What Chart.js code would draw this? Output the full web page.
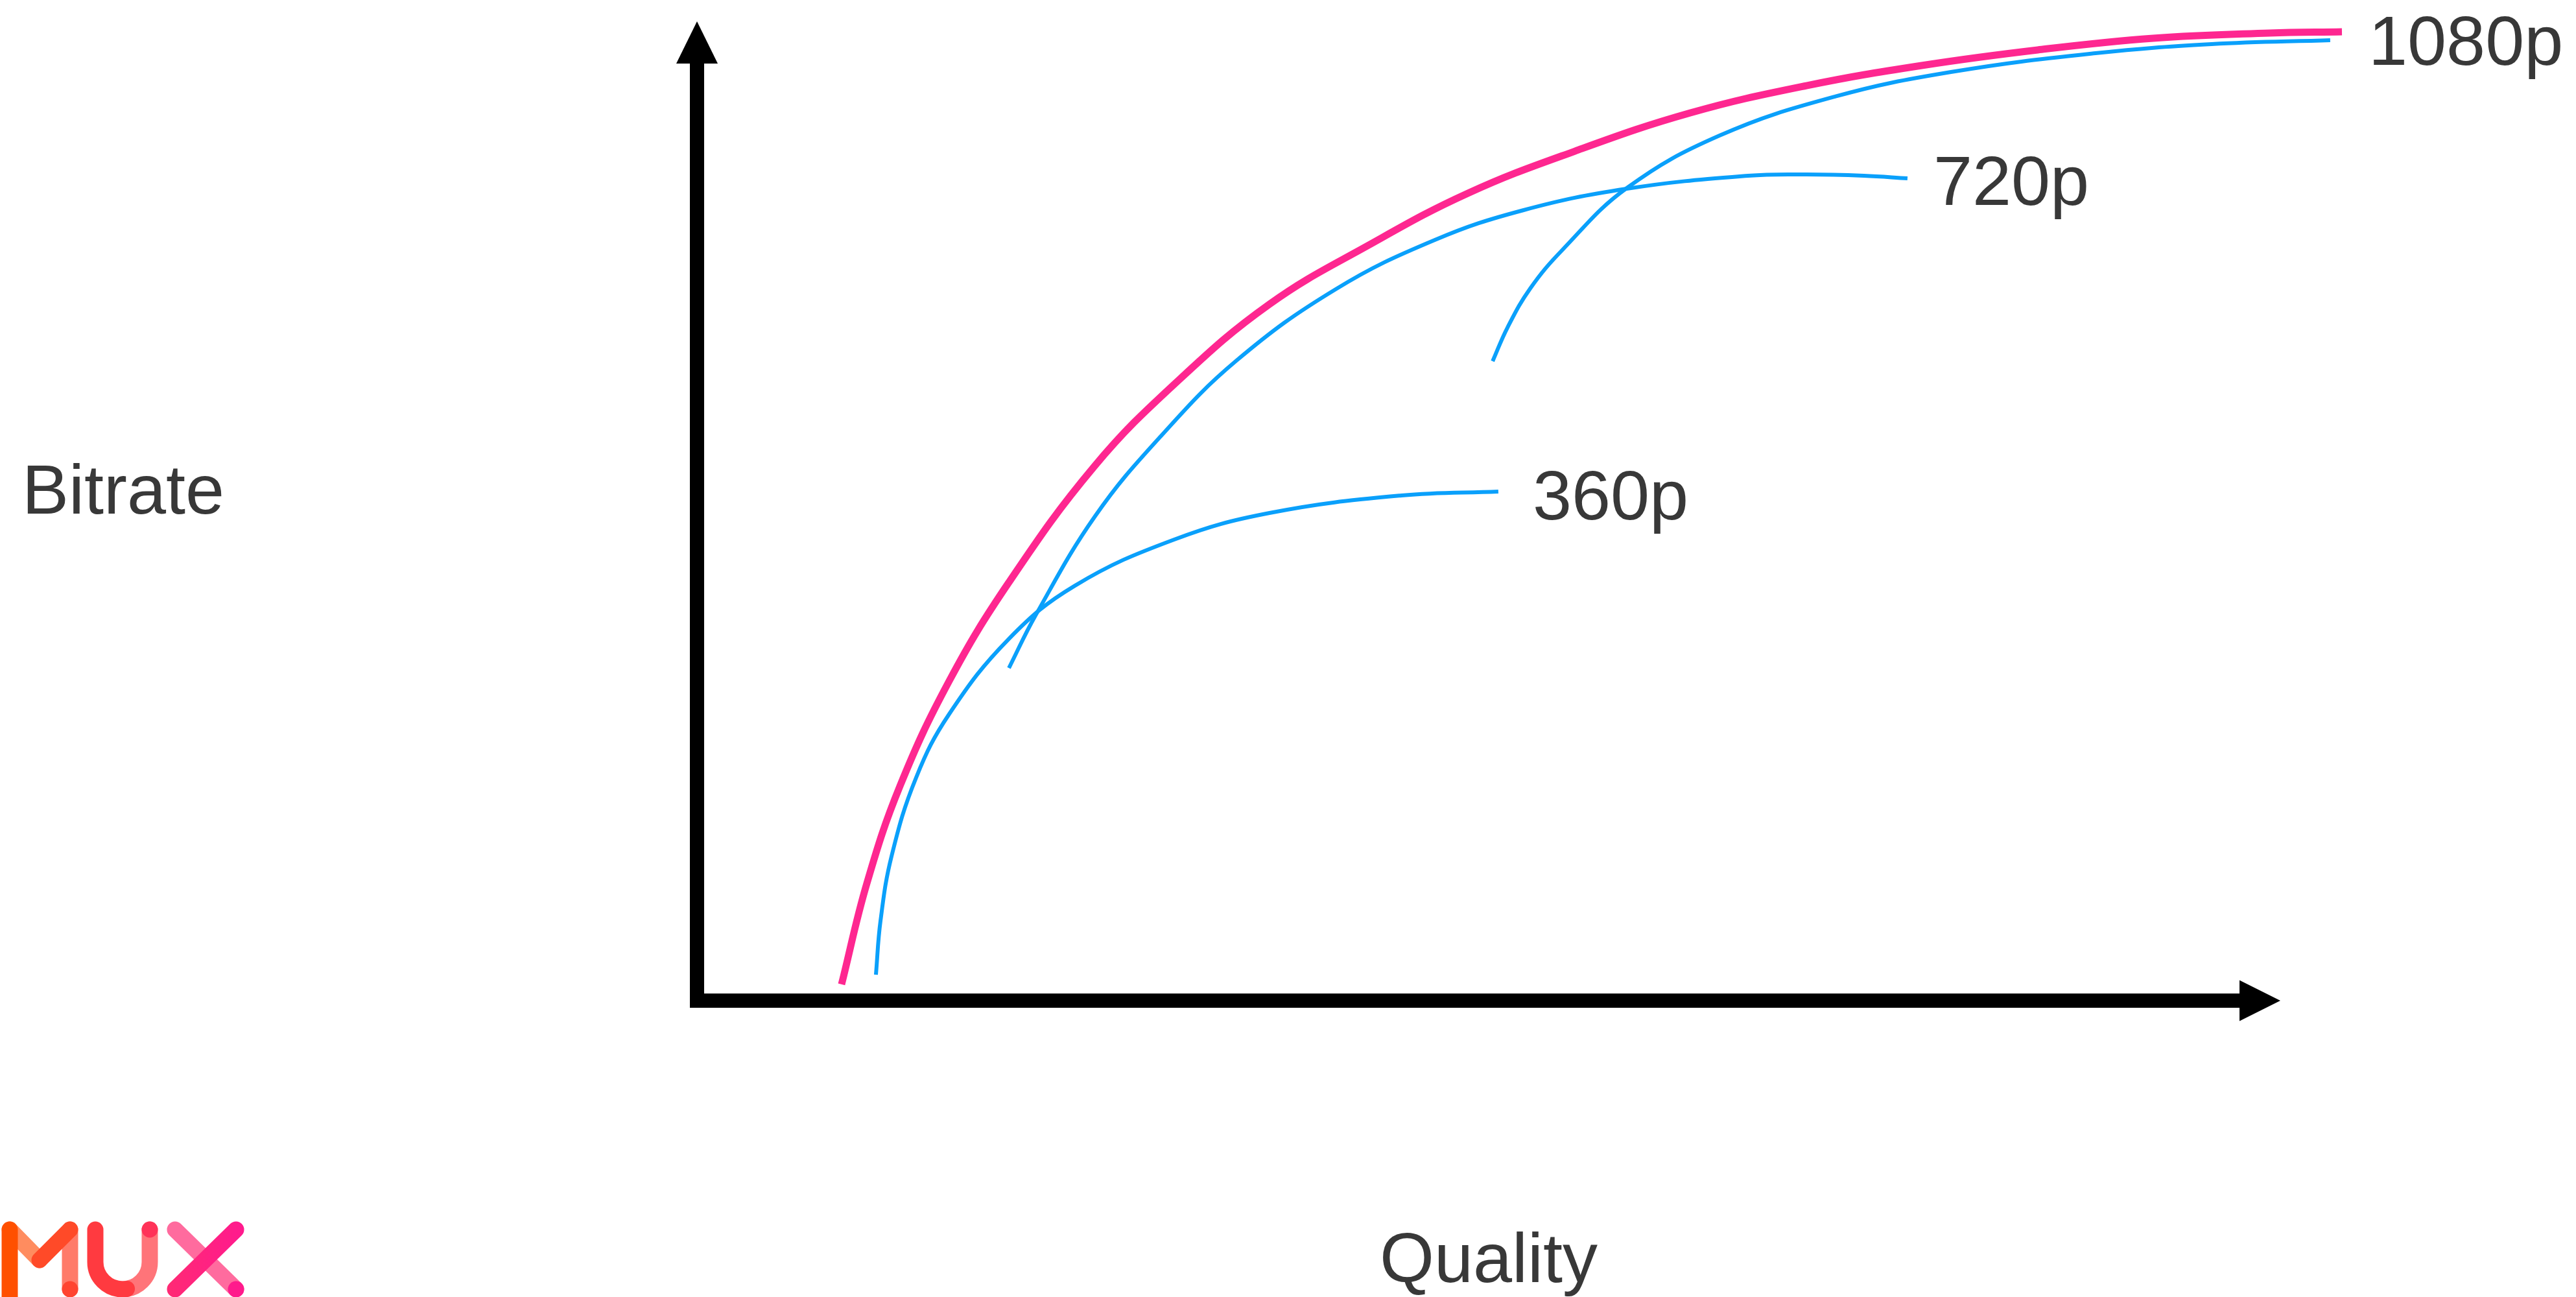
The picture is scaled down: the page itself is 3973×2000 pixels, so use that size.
<!DOCTYPE html>
<html>
<head>
<meta charset="utf-8">
<script src="https://cdn.jsdelivr.net/npm/chart.js@4.4.1/dist/chart.umd.min.js"></script>
<style>
html, body { margin: 0; padding: 0; background: #fff; }
#wrap { width: 3973px; height: 2000px; position: relative; }
</style>
</head>
<body>
<div id="wrap"><canvas id="chart_bitrateLadder"></canvas></div>
<script>
// axis titles
var xAxisTitle = 'Quality';
var yAxisTitle = 'Bitrate';

// quality (0-100 along the x arrow), bitrate (0-100 along the y arrow)
var hull1080Quality = [9.13, 10.73, 12.82, 15.93, 19.70, 25.10, 30.30, 36.16, 42.42, 48.69, 55.45, 62.74, 70.07, 77.35, 84.68, 91.97, 99.30, 103.89];
var hull1080Bitrate = [1.66, 11.99, 21.92, 32.65, 42.72, 54.57, 63.18, 71.13, 77.15, 82.45, 86.75, 90.66, 93.44, 95.50, 97.09, 98.28, 98.81, 98.94];

var res1080Quality = [50.25, 51.19, 52.62, 54.67, 58.72, 64.58, 71.87, 79.20, 88.33, 95.66, 103.15];
var res1080Bitrate = [65.30, 68.74, 72.72, 76.69, 82.98, 88.34, 92.32, 94.83, 96.75, 97.68, 98.08];

var res720Quality = [19.70, 21.38, 25.14, 29.28, 34.07, 40.34, 46.60, 52.21, 58.72, 66.38, 70.07, 73.71, 76.45];
var res720Bitrate = [33.97, 39.34, 49.47, 57.62, 65.36, 72.65, 77.68, 80.73, 82.91, 84.24, 84.37, 84.24, 83.97];

var res360Quality = [11.30, 11.59, 12.29, 13.84, 15.93, 19.70, 23.87, 30.14, 36.16, 44.51, 50.61];
var res360Bitrate = [2.65, 8.15, 14.77, 22.78, 29.27, 36.95, 42.38, 47.09, 49.80, 51.59, 51.99];

function toPoints(xs, ys) {
    return xs.map(function (x, i) { return { x: x, y: ys[i] }; });
}

var labelFont = '108px "Liberation Sans", Arial, sans-serif';
var textColor = '#383838';

var axesPlugin = {
    id: 'arrowAxes',
    beforeDraw: function (chart) {
        var ctx = chart.ctx;
        ctx.save();
        ctx.fillStyle = 'white';
        ctx.fillRect(0, 0, chart.width, chart.height);
        ctx.restore();
    },
    beforeDatasetsDraw: function (chart) {
        var ctx = chart.ctx;
        var a = chart.chartArea;
        var ox = chart.scales.x.getPixelForValue(0);
        var oy = chart.scales.y.getPixelForValue(0);
        ctx.save();
        ctx.fillStyle = '#000';
        // y axis
        ctx.fillRect(ox - 11, a.top + 65, 22, oy + 11 - (a.top + 65));
        ctx.beginPath();
        ctx.moveTo(ox - 32, a.top + 65);
        ctx.lineTo(ox + 32, a.top + 65);
        ctx.lineTo(ox, a.top);
        ctx.closePath();
        ctx.fill();
        // x axis
        ctx.fillRect(ox - 11, oy - 11, a.right - 63 - (ox - 11), 22);
        ctx.beginPath();
        ctx.moveTo(a.right - 63, oy - 31.5);
        ctx.lineTo(a.right - 63, oy + 31.5);
        ctx.lineTo(a.right, oy);
        ctx.closePath();
        ctx.fill();
        ctx.restore();
    },
    afterDatasetsDraw: function (chart) {
        var ctx = chart.ctx;
        var a = chart.chartArea;
        ctx.save();
        ctx.font = labelFont;
        ctx.fillStyle = textColor;
        ctx.textBaseline = 'alphabetic';

        // end-of-curve labels
        chart.data.datasets.forEach(function (ds, i) {
            if (!ds.endLabel) return;
            var meta = chart.getDatasetMeta(i);
            var last = meta.data[meta.data.length - 1];
            ctx.textAlign = 'left';
            ctx.fillText(ds.endLabel, last.x + ds.endLabelDx, last.y + ds.endLabelDy);
        });

        ctx.textAlign = 'left';
        ctx.fillText(yAxisTitle, 34, 792);
        ctx.textAlign = 'center';
        ctx.fillText(xAxisTitle, (a.left + a.right) / 2, 1977);
        ctx.restore();

        drawLogo(ctx);
    }
};

function stroke(ctx, color, pts) {
    ctx.strokeStyle = color;
    ctx.beginPath();
    ctx.moveTo(pts[0], pts[1]);
    for (var i = 2; i < pts.length; i += 2) ctx.lineTo(pts[i], pts[i + 1]);
    ctx.stroke();
}

function drawLogo(ctx) {
    ctx.save();
    ctx.lineWidth = 25;
    ctx.lineCap = 'round';
    ctx.lineJoin = 'round';
    // M
    stroke(ctx, '#ff8c5f', [15, 1896, 61, 1943]);
    stroke(ctx, '#ff7b69', [108, 1896, 108, 1988]);
    stroke(ctx, '#ff5000', [15, 1896, 15, 2030]);
    stroke(ctx, '#ff4a28', [61, 1943, 108, 1896]);
    ctx.fillStyle = '#ff4530';
    ctx.beginPath(); ctx.arc(108, 1988, 12.5, 0, Math.PI * 2); ctx.fill();
    // U
    ctx.strokeStyle = '#ff7479';
    ctx.beginPath();
    ctx.moveTo(231, 1896);
    ctx.lineTo(231, 1946);
    ctx.arc(189, 1946, 42, 0, Math.PI / 2);
    ctx.stroke();
    ctx.strokeStyle = '#ff3a40';
    ctx.beginPath();
    ctx.moveTo(147, 1896);
    ctx.lineTo(147, 1946);
    ctx.arc(189, 1946, 42, Math.PI, Math.PI * 0.45, true);
    ctx.stroke();
    ctx.fillStyle = '#ff3358';
    ctx.beginPath(); ctx.arc(231, 1896, 12.5, 0, Math.PI * 2); ctx.fill();
    // X
    stroke(ctx, '#ff6b9e', [270, 1896, 364, 1988]);
    var g = ctx.createLinearGradient(258, 0, 376, 0);
    g.addColorStop(0, '#ff2a74');
    g.addColorStop(1, '#ff1a8e');
    stroke(ctx, g, [270, 1988, 364, 1896]);
    ctx.fillStyle = '#ff1a8c';
    ctx.beginPath(); ctx.arc(364, 1988, 12.5, 0, Math.PI * 2); ctx.fill();
    ctx.restore();
}

var chart_bitrateLadder = new Chart(document.getElementById('chart_bitrateLadder'), {
    type: 'line',
    data: {
        datasets: [
            {
                label: '1080p',
                data: toPoints(res1080Quality, res1080Bitrate),
                borderColor: '#0aa0fb',
                borderWidth: 6
            },
            {
                label: '720p',
                data: toPoints(res720Quality, res720Bitrate),
                borderColor: '#0aa0fb',
                borderWidth: 6,
                endLabel: '720p', endLabelDx: 40, endLabelDy: 41
            },
            {
                label: '360p',
                data: toPoints(res360Quality, res360Bitrate),
                borderColor: '#0aa0fb',
                borderWidth: 6,
                endLabel: '360p', endLabelDx: 53, endLabelDy: 43
            },
            {
                label: '1080p hull',
                data: toPoints(hull1080Quality, hull1080Bitrate),
                borderColor: '#fe2790',
                borderWidth: 11,
                endLabel: '1080p', endLabelDx: 41, endLabelDy: 51
            }
        ].map(function (ds) {
            ds.fill = false;
            ds.pointRadius = 0;
            ds.pointHoverRadius = 0;
            ds.tension = 0.4;
            ds.capBezierPoints = false;
            ds.borderCapStyle = 'butt';
            ds.borderJoinStyle = 'round';
            ds.clip = false;
            return ds;
        })
    },
    options: {
        animation: false,
        responsive: true,
        maintainAspectRatio: false,
        layout: {
            padding: { left: 1075, right: 456, top: 33, bottom: 457 }
        },
        plugins: {
            legend: { display: false },
            tooltip: { enabled: false }
        },
        scales: {
            x: { type: 'linear', min: 0, max: 100, display: false },
            y: { type: 'linear', min: 0, max: 100, display: false }
        }
    },
    plugins: [axesPlugin]
});
</script>
</body>
</html>
